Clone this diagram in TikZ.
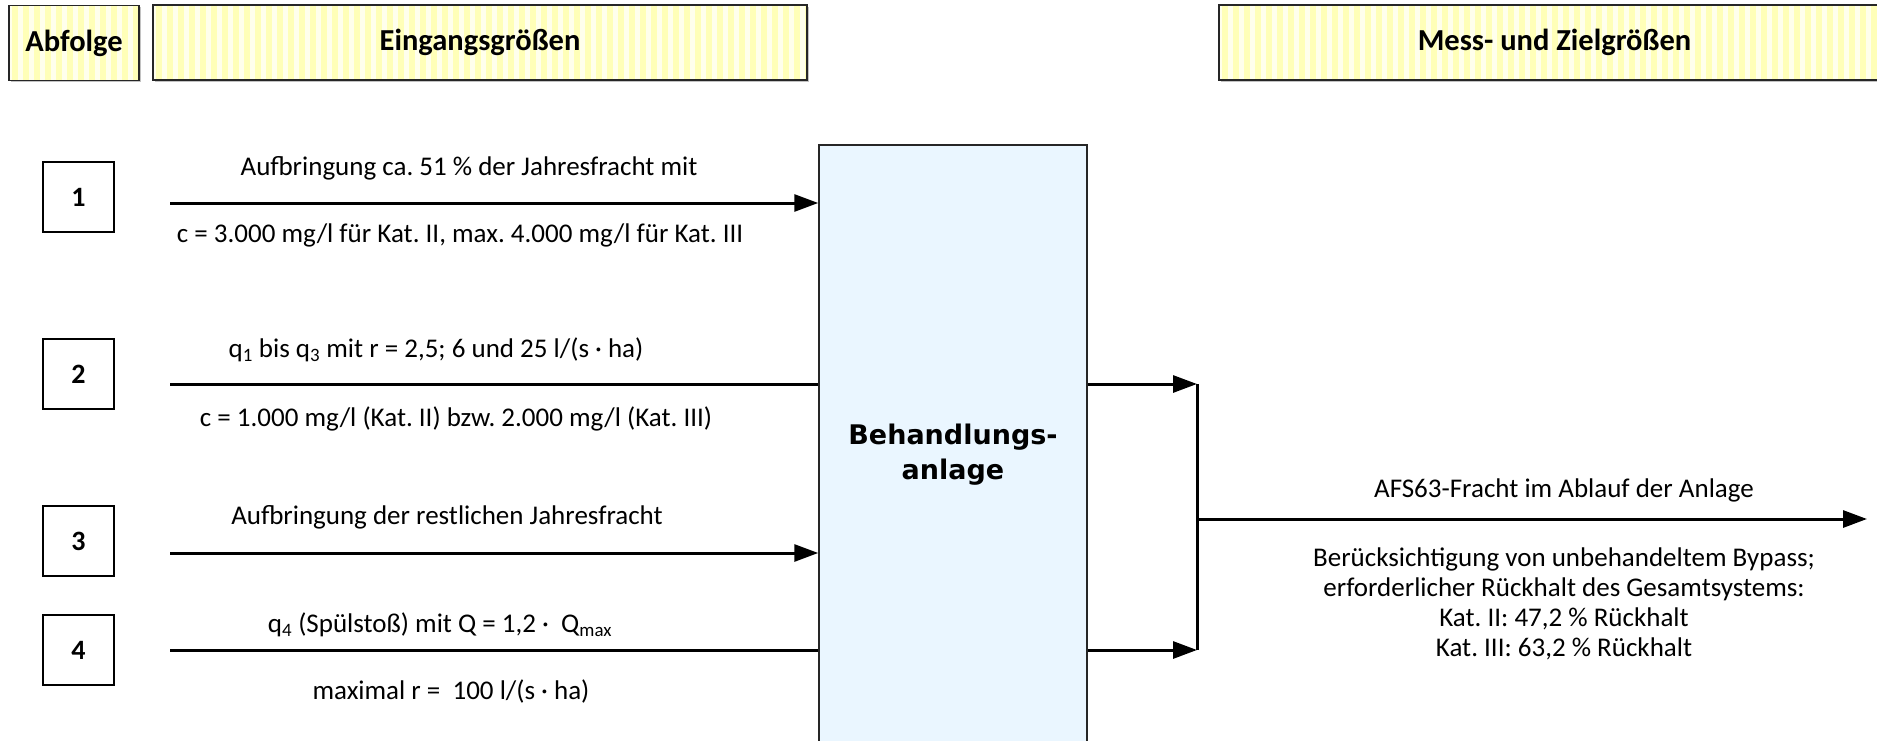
\documentclass[tikz,border=0pt]{standalone}
\usepackage{fontspec}
\setmainfont{Carlito}
\newfontfamily\anlfont{DejaVu Sans}
\usetikzlibrary{arrows.meta,shadows}
\definecolor{stripeA}{HTML}{FFFFB8}
\definecolor{stripeB}{HTML}{FFFFEC}
\definecolor{anlblue}{HTML}{EAF6FF}
\definecolor{boxline}{HTML}{262626}
\frenchspacing
\begin{document}
\begin{tikzpicture}[x=1pt,y=-1pt,
  lbl/.style={font=\fontsize{27}{30}\selectfont, align=center, inner sep=0pt},
  hdrbox/.style={draw=boxline, line width=1.8pt, fill=stripeB,
    drop shadow={shadow xshift=2pt, shadow yshift=-2pt, fill=black!40, opacity=0.6},
    font=\fontsize{30.5}{36}\selectfont\bfseries, inner sep=0pt,
    path picture={
      \foreach \k in {0,...,75}
        \fill[stripeA] ([xshift=\k*11pt+3pt]path picture bounding box.north west)
          rectangle ([xshift=\k*11pt+8.5pt]path picture bounding box.south west);
    }},
  numbox/.style={draw=black, line width=1.5pt, fill=white, inner sep=0pt,
    minimum width=71pt, minimum height=70pt, font=\fontsize{28}{32}\selectfont\bfseries},
  flow/.style={line width=3pt, draw=black},
  tip/.style={-{Triangle[length=24pt,width=17pt]}},
]
\useasboundingbox (0,0) rectangle (1877,741);

% header boxes
\node[hdrbox, minimum width=130pt, minimum height=75pt] (hA) at (74,43) {Abfolge};
\node[hdrbox, minimum width=654pt, minimum height=75pt] (hE) at (480,42.5) {Eingangsgrößen};
\node[hdrbox, minimum width=671pt, minimum height=75pt] (hM) at (1554.5,42.5) {Mess- und Zielgrößen};

% sequence number boxes
\node[numbox] (n1) at (78.5,197) {1};
\node[numbox] (n2) at (78.5,374) {2};
\node[numbox] (n3) at (78.5,541) {3};
\node[numbox] (n4) at (78.5,650) {4};

% treatment plant
\node[draw=boxline, line width=1.5pt, fill=anlblue, minimum width=268pt, minimum height=620pt,
  inner sep=0pt, align=center, font=\anlfont\fontsize{27}{35}\selectfont\bfseries]
  (anl) at (953,455) {Behandlungs-\\anlage};

% input connectors
\coordinate (s1) at (170,203);
\coordinate (s2) at (170,384);
\coordinate (s3) at (170,553);
\coordinate (s4) at (170,650);
\draw[flow,tip] (s1) -- (s1 -| anl.west);
\draw[flow] (s2) -- (s2 -| anl.west);
\draw[flow,tip] (s3) -- (s3 -| anl.west);
\draw[flow] (s4) -- (s4 -| anl.west);

% output connectors
\coordinate (j1) at (1197,384);
\coordinate (j2) at (1197,650);
\coordinate (jm) at (1197,519);
\coordinate (out) at (1867,519);
\draw[flow,tip] (j1 -| anl.east) -- (j1);
\draw[flow,tip] (j2 -| anl.east) -- (j2);
\draw[flow] (j1) -- (j2);
\draw[flow,tip] (jm) -- (out);

% input labels
\node[lbl] (l1a) at (469,168) {Aufbringung ca. 51 \% der Jahresfracht mit};
\node[lbl] (l1b) at (460,235) {c = 3.000 mg/l für Kat. II, max. 4.000 mg/l für Kat. III};
\node[lbl] (l2a) at (436,350) {q\textsubscript{1} bis q\textsubscript{3} mit r = 2,5; 6 und 25 l/(s · ha)};
\node[lbl] (l2b) at (456,419) {c = 1.000 mg/l (Kat. II) bzw. 2.000 mg/l (Kat. III)};
\node[lbl] (l3a) at (447,517) {Aufbringung der restlichen Jahresfracht};
\node[lbl] (l4a) at (440,625) {q\textsubscript{4} (Spülstoß) mit Q = 1,2 ·\ \ Q\textsubscript{max}};
\node[lbl] (l4b) at (451,691) {maximal r =\ \ 100 l/(s · ha)};

% output labels
\node[lbl] (o1) at (1564,490) {AFS63-Fracht im Ablauf der Anlage};
\node[lbl] (o2) at (1564,604) {Berücksichtigung von unbehandeltem Bypass;\\erforderlicher Rückhalt des Gesamtsystems:\\Kat. II: 47,2 \% Rückhalt\\Kat. III: 63,2 \% Rückhalt};
\end{tikzpicture}
\end{document}
